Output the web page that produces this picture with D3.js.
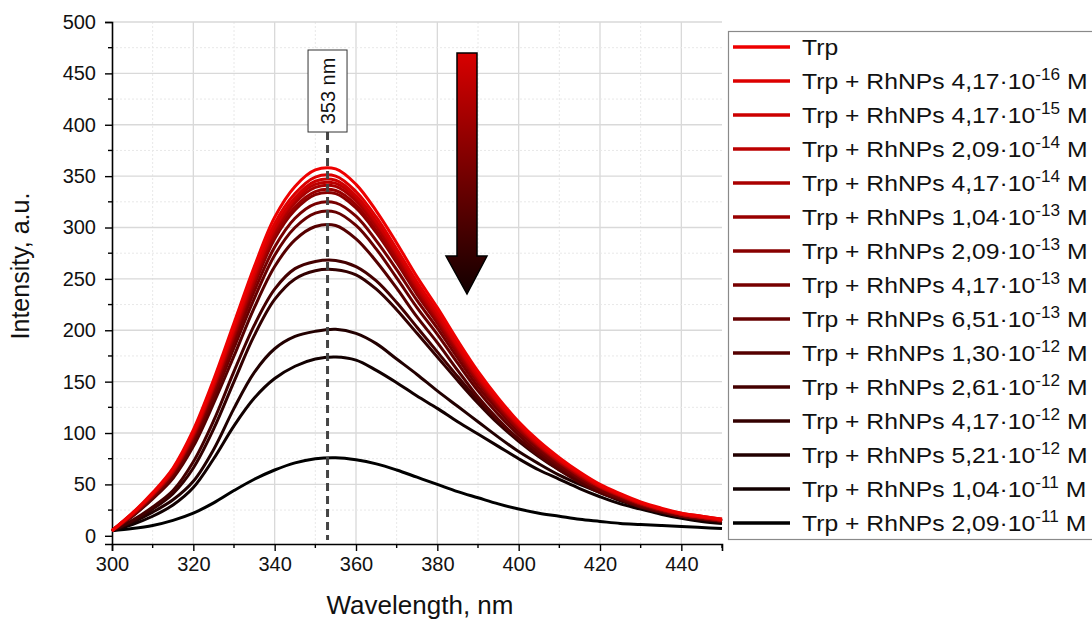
<!DOCTYPE html>
<html>
<head>
<meta charset="utf-8">
<script src="https://cdn.jsdelivr.net/npm/d3@7"></script>
<style>
  body { margin: 0; background: #fff; }
  svg text { font-family: "Liberation Sans", Arial, sans-serif; fill: #111; }
</style>
</head>
<body>
<div id="chart"></div>
<script>
// wavelength grid, nm
var wavelengths = [300,305,310,315,320,325,330,335,340,345,350,355,360,365,370,375,380,385,390,395,400,405,410,415,420,425,430,435,440,445,450];

// emission intensity, a.u.
var trp      = [5,22,42,66,103,152,207,262,310,340,356,357,342,316,285,252,222,190,160,134,111,92,76,62,50,41,33,27,22,19,16];
var c417e16  = [5,22,41,65,101,149,203,257,304,333,349,350,335,310,279,247,218,186,157,131,109,90,74,61,49,40,32,26,22,19,16];
var c417e15  = [5,21,41,64,100,147,201,254,300,329,345,346,331,306,276,244,215,184,155,130,108,89,74,60,48,40,32,26,21,18,16];
var c209e14  = [5,21,40,63,99,146,199,252,298,327,342,343,329,304,274,242,213,183,154,129,107,88,73,60,48,39,32,26,21,18,15];
var c417e14  = [5,21,40,63,98,145,197,249,295,324,339,340,326,301,271,240,211,181,152,128,106,88,72,59,48,39,31,26,21,18,15];
var c104e13  = [5,21,40,62,97,143,195,247,292,320,335,336,322,297,268,237,209,179,151,126,104,87,72,58,47,39,31,25,21,18,15];
var c209e13  = [5,20,39,62,96,142,193,244,289,317,332,333,319,295,266,235,207,177,149,125,104,86,71,58,47,38,31,25,21,18,15];
var c417e13  = [5,20,38,60,94,138,188,238,281,309,323,324,311,287,259,229,202,173,145,122,101,84,69,56,45,37,30,25,20,17,15];
var c651e13  = [5,19,37,58,91,134,183,231,273,300,314,315,302,279,251,222,196,168,141,118,98,81,67,55,44,36,29,24,19,17,14];
var c130e12  = [5,19,36,56,87,129,175,222,262,288,301,302,289,267,241,213,188,161,135,113,94,78,64,52,42,35,28,23,19,16,14];
var c261e12  = [5,15,28,44,72,112,160,205,240,260,267,268,262,248,227,203,179,155,132,112,94,79,66,55,46,38,31,26,21,18,15];
var c417e12  = [5,14,26,41,66,104,150,195,230,250,258,259,254,240,220,197,174,151,129,109,92,77,64,53,44,36,30,25,20,17,14];
var c521e12  = [5,13,23,35,53,84,124,159,182,194,199,201,197,187,172,157,141,126,111,96,82,70,59,50,42,34,28,23,19,16,14];
var c104e11  = [5,11,19,30,47,75,107,134,153,165,172,174,171,161,149,136,124,111,99,87,75,64,55,46,38,31,26,21,17,14,12];
var c209e11  = [5,7,10,15,22,32,44,55,64,71,75,76,74,70,64,57,50,43,37,31,26,22,19,16,14,12,11,10,9,8,7];

var mantissas = ["4,17","4,17","2,09","4,17","1,04","2,09","4,17","6,51","1,30","2,61","4,17","5,21","1,04","2,09"];
var exponents = ["-16","-15","-14","-14","-13","-13","-13","-13","-12","-12","-12","-12","-11","-11"];

var xTicks = [300,320,340,360,380,400,420,440];
var yTicks = [0,50,100,150,200,250,300,350,400,450,500];
var peakWavelength = 353;

var allSeries = [trp, c417e16, c417e15, c209e14, c417e14, c104e13, c209e13, c417e13,
                 c651e13, c130e12, c261e12, c417e12, c521e12, c104e11, c209e11];

var svgWidth = 1092;
var svgHeight = 619;

var svg = d3.select("#chart")
  .append("svg")
  .attr("width", svgWidth)
  .attr("height", svgHeight);

var plotLeft = 112, plotRight = 722, plotTop = 22, plotBottom = 544;

var xScale = d3.scaleLinear().domain([300, 450]).range([plotLeft, plotRight]);
var yScale = d3.scaleLinear().domain([-8, 500]).range([plotBottom, plotTop]);

var colorScale = function (i) {
  return d3.interpolateRgb("#ee0000", "#000000")(i / (allSeries.length - 1));
};

// grid
var grid = svg.append("g");
d3.range(310, 450, 10).forEach(function (v) {
  var major = v % 20 === 0;
  grid.append("line")
    .attr("x1", xScale(v)).attr("x2", xScale(v))
    .attr("y1", plotTop).attr("y2", plotBottom)
    .attr("stroke", major ? "#d9d9d9" : "#e8e8e8")
    .attr("stroke-width", major ? 1.3 : 1)
    .attr("stroke-dasharray", major ? null : "2,2");
});
d3.range(25, 501, 25).forEach(function (v) {
  var major = v % 50 === 0;
  grid.append("line")
    .attr("x1", plotLeft).attr("x2", plotRight)
    .attr("y1", yScale(v)).attr("y2", yScale(v))
    .attr("stroke", major ? "#d9d9d9" : "#e8e8e8")
    .attr("stroke-width", major ? 1.3 : 1)
    .attr("stroke-dasharray", major ? null : "2,2");
});

// axes
var bottomAxis = d3.axisBottom(xScale).tickValues(xTicks).tickSize(7).tickPadding(6);
var leftAxis = d3.axisLeft(yScale).tickValues(yTicks).tickSize(7).tickPadding(9);

var gx = svg.append("g")
  .attr("transform", `translate(0, ${plotBottom})`)
  .call(bottomAxis);
var gy = svg.append("g")
  .attr("transform", `translate(${plotLeft}, 0)`)
  .call(leftAxis);

[gx, gy].forEach(function (g) {
  g.select(".domain").attr("stroke", "#000").attr("stroke-width", 1.6);
  g.selectAll(".tick line").attr("stroke", "#000").attr("stroke-width", 1.4);
  g.selectAll(".tick text").style("font-size", "20px").attr("fill", "#111");
});

// minor ticks
gx.selectAll(".minor")
  .data(d3.range(310, 451, 20))
  .enter().append("line")
  .attr("x1", d => xScale(d)).attr("x2", d => xScale(d))
  .attr("y1", 0).attr("y2", 4)
  .attr("stroke", "#000").attr("stroke-width", 1.4);
gy.selectAll(".minor")
  .data(d3.range(25, 500, 50))
  .enter().append("line")
  .attr("x1", 0).attr("x2", -4)
  .attr("y1", d => yScale(d)).attr("y2", d => yScale(d))
  .attr("stroke", "#000").attr("stroke-width", 1.4);

// curves
var line = d3.line()
  .x((d, i) => xScale(wavelengths[i]))
  .y(d => yScale(d))
  .curve(d3.curveCatmullRom.alpha(0.5));

var order = d3.range(allSeries.length).reverse();
svg.append("g").selectAll("path")
  .data(order)
  .enter()
  .append("path")
  .attr("d", i => line(allSeries[i]))
  .attr("fill", "none")
  .attr("stroke", i => colorScale(i))
  .attr("stroke-width", 3)
  .attr("stroke-linejoin", "round");

// peak marker
svg.append("line")
  .attr("x1", xScale(peakWavelength)).attr("x2", xScale(peakWavelength))
  .attr("y1", 132).attr("y2", plotBottom - 4)
  .attr("stroke", "#444")
  .attr("stroke-width", 3)
  .attr("stroke-dasharray", "8,5");

svg.append("rect")
  .attr("x", xScale(peakWavelength) - 19.5).attr("y", 50)
  .attr("width", 39).attr("height", 82)
  .attr("fill", "#fff").attr("stroke", "#333").attr("stroke-width", 1);

svg.append("text")
  .attr("transform", `translate(${xScale(peakWavelength) + 7}, 91) rotate(-90)`)
  .style("text-anchor", "middle")
  .style("font-size", "20px")
  .text(peakWavelength + " nm");

// arrow
var defs = svg.append("defs");
var grad = defs.append("linearGradient")
  .attr("id", "arrowGrad")
  .attr("x1", 0).attr("x2", 0).attr("y1", 0).attr("y2", 1);
grad.append("stop").attr("offset", "0%").attr("stop-color", "#d80000");
grad.append("stop").attr("offset", "100%").attr("stop-color", "#120000");

svg.append("path")
  .attr("d", "M457,53 L477,53 L477,256 L487,256 L467,294 L446,256 L457,256 Z")
  .attr("fill", "url(#arrowGrad)")
  .attr("stroke", "#000")
  .attr("stroke-width", 1.5)
  .attr("stroke-linejoin", "miter");

// axis titles
svg.append("text")
  .attr("transform", `translate(29, 266) rotate(-90)`)
  .style("text-anchor", "middle")
  .style("font-size", "25px")
  .text("Intensity, a.u.");

svg.append("text")
  .attr("x", 420).attr("y", 614)
  .style("text-anchor", "middle")
  .style("font-size", "26px")
  .text("Wavelength, nm");

// legend
var legend = svg.append("g");
legend.append("rect")
  .attr("x", 728.5).attr("y", 31.5)
  .attr("width", 370).attr("height", 508)
  .attr("fill", "#fff")
  .attr("stroke", "#8a8a8a")
  .attr("stroke-width", 1.2);

allSeries.forEach(function (s, i) {
  var yy = 47 + i * 34;
  legend.append("line")
    .attr("x1", 733).attr("x2", 790)
    .attr("y1", yy).attr("y2", yy)
    .attr("stroke", colorScale(i))
    .attr("stroke-width", 3.5);
  var t = legend.append("text")
    .attr("transform", `translate(802, ${yy + 8}) scale(1.075, 1)`)
    .style("font-size", "23px");
  if (i === 0) {
    t.text("Trp");
  } else {
    t.append("tspan").text("Trp + RhNPs " + mantissas[i - 1] + "\u00b710");
    t.append("tspan").attr("dy", -9).style("font-size", "16px").text(exponents[i - 1]);
    t.append("tspan").attr("dy", 9).text(" M");
  }
});
</script>
</body>
</html>
